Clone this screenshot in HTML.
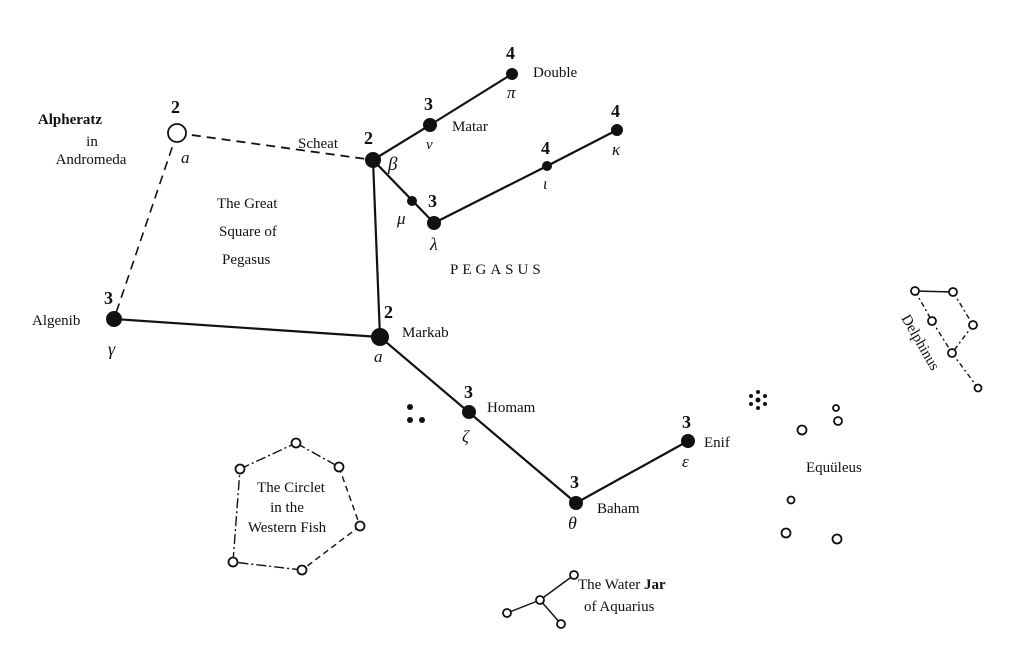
<!DOCTYPE html>
<html><head><meta charset="utf-8"><style>
html,body{margin:0;padding:0;background:#fff;}
svg text{font-family:"Liberation Serif",serif;fill:#111;}
</style></head><body>
<svg width="1024" height="661" viewBox="0 0 1024 661" xmlns="http://www.w3.org/2000/svg">
<g stroke="#111" fill="none" stroke-width="2.2">
<line x1="177" y1="133" x2="373" y2="160" stroke-dasharray="9,6" stroke-width="1.8"/>
<line x1="177" y1="133" x2="114" y2="319" stroke-dasharray="9,6" stroke-width="1.6"/>
<line x1="373" y1="160" x2="380" y2="337"/>
<line x1="114" y1="319" x2="380" y2="337"/>
<line x1="373" y1="160" x2="430" y2="125"/>
<line x1="430" y1="125" x2="512" y2="74"/>
<line x1="373" y1="160" x2="434" y2="223"/>
<line x1="434" y1="223" x2="547" y2="166"/>
<line x1="547" y1="166" x2="617" y2="130"/>
<line x1="380" y1="337" x2="576" y2="503"/>
<line x1="576" y1="503" x2="688" y2="441"/>
<g stroke-width="1.4">
<line x1="240" y1="469" x2="296" y2="443" stroke-dasharray="10,3,2,3"/>
<line x1="296" y1="443" x2="339" y2="467" stroke-dasharray="10,3,2,3"/>
<line x1="339" y1="467" x2="360" y2="526" stroke-dasharray="6,4"/>
<line x1="360" y1="526" x2="302" y2="570" stroke-dasharray="6,4"/>
<line x1="302" y1="570" x2="233" y2="562" stroke-dasharray="10,3,2,3"/>
<line x1="233" y1="562" x2="240" y2="469" stroke-dasharray="10,3,2,3"/>
<line x1="574" y1="575" x2="540" y2="600"/>
<line x1="540" y1="600" x2="507" y2="613"/>
<line x1="540" y1="600" x2="561" y2="624"/>
<line x1="915" y1="291" x2="953" y2="292"/>
<line x1="953" y1="292" x2="973" y2="325" stroke-dasharray="5,3,2,3"/>
<line x1="973" y1="325" x2="952" y2="353" stroke-dasharray="5,3,2,3"/>
<line x1="915" y1="291" x2="932" y2="321" stroke-dasharray="5,3,2,3"/>
<line x1="932" y1="321" x2="952" y2="353" stroke-dasharray="5,3,2,3"/>
<line x1="952" y1="353" x2="978" y2="388" stroke-dasharray="5,3,2,3"/>
</g>
</g>
<circle cx="177" cy="133" r="9" fill="#fff" stroke="#111" stroke-width="1.8"/>
<g fill="#111">
<circle cx="373" cy="160" r="8"/><circle cx="430" cy="125" r="7"/><circle cx="512" cy="74" r="6"/>
<circle cx="412" cy="201" r="5"/><circle cx="434" cy="223" r="7"/><circle cx="547" cy="166" r="5"/>
<circle cx="617" cy="130" r="6"/><circle cx="114" cy="319" r="8"/><circle cx="380" cy="337" r="9"/>
<circle cx="469" cy="412" r="7"/><circle cx="576" cy="503" r="7"/><circle cx="688" cy="441" r="7"/>
<circle cx="410" cy="407" r="3"/><circle cx="410" cy="420" r="3"/><circle cx="422" cy="420" r="3"/>
<circle cx="758" cy="400" r="2.5"/><circle cx="758" cy="392" r="2"/><circle cx="758" cy="408" r="2"/>
<circle cx="751" cy="396" r="2"/><circle cx="765" cy="396" r="2"/><circle cx="751" cy="404" r="2"/><circle cx="765" cy="404" r="2"/>
</g>
<g fill="#fff" stroke="#111" stroke-width="1.8">
<circle cx="296" cy="443" r="4.5"/><circle cx="240" cy="469" r="4.5"/><circle cx="339" cy="467" r="4.5"/>
<circle cx="360" cy="526" r="4.5"/><circle cx="233" cy="562" r="4.5"/><circle cx="302" cy="570" r="4.5"/>
<circle cx="574" cy="575" r="4"/><circle cx="540" cy="600" r="4"/><circle cx="507" cy="613" r="4"/><circle cx="561" cy="624" r="4"/>
<circle cx="836" cy="408" r="3"/><circle cx="838" cy="421" r="4"/><circle cx="802" cy="430" r="4.5"/>
<circle cx="791" cy="500" r="3.5"/><circle cx="786" cy="533" r="4.5"/><circle cx="837" cy="539" r="4.5"/>
<circle cx="915" cy="291" r="4"/><circle cx="953" cy="292" r="4"/><circle cx="932" cy="321" r="4"/>
<circle cx="973" cy="325" r="4"/><circle cx="952" cy="353" r="4"/><circle cx="978" cy="388" r="3.5"/>
</g>
<g font-size="15">
<text x="70" y="124" font-weight="bold" text-anchor="middle">Alpheratz</text>
<text x="92" y="146" text-anchor="middle">in</text>
<text x="91" y="164" text-anchor="middle">Andromeda</text>
<text x="171" y="113" font-size="18" font-weight="bold">2</text>
<text x="181" y="163" font-style="italic" font-size="17">a</text>
<text x="298" y="148">Scheat</text>
<text x="364" y="144" font-size="18" font-weight="bold">2</text>
<text x="388" y="170" font-style="italic" font-size="19">β</text>
<text x="424" y="110" font-size="18" font-weight="bold">3</text>
<text x="452" y="131">Matar</text>
<text x="426" y="149" font-style="italic" font-size="15">ν</text>
<text x="506" y="59" font-size="18" font-weight="bold">4</text>
<text x="533" y="77">Double</text>
<text x="507" y="98" font-style="italic" font-size="17">π</text>
<text x="611" y="117" font-size="18" font-weight="bold">4</text>
<text x="612" y="155" font-style="italic" font-size="17">κ</text>
<text x="541" y="154" font-size="18" font-weight="bold">4</text>
<text x="543" y="189" font-style="italic" font-size="16">ι</text>
<text x="428" y="207" font-size="18" font-weight="bold">3</text>
<text x="397" y="224" font-style="italic" font-size="17">μ</text>
<text x="430" y="250" font-style="italic" font-size="18">λ</text>
<text x="217" y="208">The Great</text>
<text x="219" y="236">Square of</text>
<text x="222" y="264">Pegasus</text>
<text x="450" y="274" font-family="Liberation Sans,sans-serif" font-size="15" letter-spacing="4">PEGASUS</text>
<text x="104" y="304" font-size="18" font-weight="bold">3</text>
<text x="32" y="325">Algenib</text>
<text x="108" y="355" font-style="italic" font-size="18">γ</text>
<text x="384" y="318" font-size="18" font-weight="bold">2</text>
<text x="402" y="337">Markab</text>
<text x="374" y="362" font-style="italic" font-size="17">a</text>
<text x="464" y="398" font-size="18" font-weight="bold">3</text>
<text x="487" y="412">Homam</text>
<text x="462" y="442" font-style="italic" font-size="17">ζ</text>
<text x="682" y="428" font-size="18" font-weight="bold">3</text>
<text x="704" y="447">Enif</text>
<text x="682" y="467" font-style="italic" font-size="17">ε</text>
<text x="570" y="488" font-size="18" font-weight="bold">3</text>
<text x="597" y="513">Baham</text>
<text x="568" y="529" font-style="italic" font-size="18">θ</text>
<text x="806" y="472">Equüleus</text>
<text x="291" y="492" text-anchor="middle">The Circlet</text>
<text x="287" y="512" text-anchor="middle">in the</text>
<text x="287" y="532" text-anchor="middle">Western Fish</text>
<text x="578" y="589">The Water <tspan font-weight="bold">Jar</tspan></text>
<text x="584" y="611">of Aquarius</text>
<text x="0" y="0" transform="translate(901,318) rotate(60)">Delphinus</text>
</g>
</svg>
</body></html>
